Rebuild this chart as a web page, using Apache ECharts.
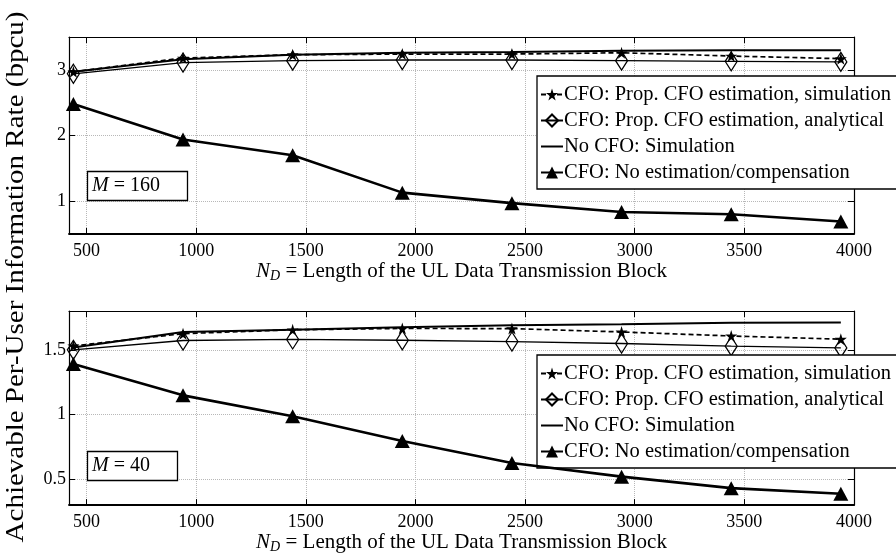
<!DOCTYPE html>
<html>
<head>
<meta charset="utf-8">
<script src="https://cdn.jsdelivr.net/npm/echarts@6/dist/echarts.min.js"></script>
<style>
  html, body { margin: 0; padding: 0; background: #fff; }
  #main { width: 896px; height: 555px; }
</style>
</head>
<body>
<div id="main"></div>
<script>
// block length N_D
const ndValues = [440, 940, 1440, 1940, 2440, 2940, 3440, 3940];

// M = 160
const propSim160 = [2.97, 3.18, 3.23, 3.24, 3.24, 3.26, 3.21, 3.17];
const propAna160 = [2.94, 3.11, 3.14, 3.15, 3.15, 3.14, 3.13, 3.12];
const noCfo160 = [2.97, 3.16, 3.23, 3.26, 3.27, 3.29, 3.30, 3.30];
const noEst160 = [2.48, 1.94, 1.70, 1.13, 0.97, 0.835, 0.80, 0.69];

// M = 40
const propSim40 = [1.53, 1.625, 1.655, 1.665, 1.664, 1.638, 1.607, 1.582];
const propAna40 = [1.50, 1.572, 1.58, 1.574, 1.564, 1.549, 1.528, 1.515];
const noCfo40 = [1.518, 1.638, 1.656, 1.674, 1.689, 1.697, 1.71, 1.712];
const noEst40 = [1.39, 1.148, 0.987, 0.796, 0.625, 0.52, 0.431, 0.388];

// ticks
const xTicks = [500, 1000, 1500, 2000, 2500, 3000, 3500, 4000];
const yTicks160 = [1, 2, 3];
const yTicks40 = [0.5, 1, 1.5];

const names = [
    'CFO: Prop. CFO estimation, simulation',
    'CFO: Prop. CFO estimation, analytical',
    'No CFO: Simulation',
    'CFO: No estimation/compensation'
];

const FONT = "'Liberation Serif', 'DejaVu Serif', serif";
const STAR = 'path://M50,0 L61,35 L98,35 L68,57 L79,91 L50,70 L21,91 L32,57 L2,35 L39,35 Z';

const pairs = (ys) => ndValues.map((x, i) => [x, ys[i]]);

// x axes: bottom one with labels, top one only for the frame/ticks
const makeX = (grid, top) => ({
    type: 'value',
    gridIndex: grid,
    position: top ? 'top' : 'bottom',
    min: 420,
    max: 4000,
    axisLine: { show: true, onZero: false, lineStyle: { color: '#000', width: top ? 1.2 : 1.8 } },
    axisTick: { show: true, inside: true, length: 6, customValues: xTicks, lineStyle: { color: '#000', width: 1 } },
    axisLabel: {
        show: !top, customValues: xTicks, margin: 8, color: '#000', fontFamily: FONT, fontSize: 18,
        formatter: (v) => String(v)
    },
    splitLine: { show: !top, lineStyle: { color: '#b8b8b8', type: 'dotted', width: 1 } },
    name: top ? '' : '{i|N}{s|D} = Length of the UL Data Transmission Block',
    nameLocation: 'middle',
    nameGap: 25,
    nameTextStyle: {
        color: '#000', fontFamily: FONT, fontSize: 21,
        rich: {
            i: { fontFamily: FONT, fontSize: 21, fontStyle: 'italic', color: '#000' },
            s: { fontFamily: FONT, fontSize: 14, fontStyle: 'italic', color: '#000', padding: [9, 0, 0, 0] }
        }
    }
});

const makeY = (grid, right, min, max, ticks) => ({
    type: 'value',
    gridIndex: grid,
    position: right ? 'right' : 'left',
    min: min,
    max: max,
    axisLine: { show: true, onZero: false, lineStyle: { color: '#000', width: 1.2 } },
    axisTick: { show: true, inside: true, length: 6, customValues: ticks, lineStyle: { color: '#000', width: 1 } },
    axisLabel: { show: !right, customValues: ticks, margin: 3, color: '#000', fontFamily: FONT, fontSize: 18 },
    splitLine: { show: !right, lineStyle: { color: '#b8b8b8', type: 'dotted', width: 1 } }
});

const makeSeries = (idx, sim, ana, noCfo, noEst) => [
    {
        name: names[0], type: 'line', xAxisIndex: idx * 2, yAxisIndex: idx * 2,
        data: pairs(sim), symbol: STAR, symbolSize: 12, z: 4,
        lineStyle: { color: '#000', width: 1.7, type: [5, 3] },
        itemStyle: { color: '#000' }
    },
    {
        name: names[1], type: 'line', xAxisIndex: idx * 2, yAxisIndex: idx * 2,
        data: pairs(ana), symbol: 'diamond', symbolSize: [12, 19], z: 3,
        lineStyle: { color: '#000', width: 1.3 },
        itemStyle: { color: 'rgba(0,0,0,0)', borderColor: '#000', borderWidth: 1.3 }
    },
    {
        // plain line, the hidden symbol keeps the legend icon to a bare line
        name: names[2], type: 'line', xAxisIndex: idx * 2, yAxisIndex: idx * 2,
        data: pairs(noCfo), symbol: 'circle', showSymbol: false, z: 2,
        lineStyle: { color: '#000', width: 2 },
        itemStyle: { color: 'rgba(0,0,0,0)', borderWidth: 0 }
    },
    {
        name: names[3], type: 'line', xAxisIndex: idx * 2, yAxisIndex: idx * 2,
        data: pairs(noEst), symbol: 'triangle', symbolSize: [15, 14], z: 5,
        lineStyle: { color: '#000', width: 2.6 },
        itemStyle: { color: '#000' }
    }
];

const makeLegend = (top) => ({
    orient: 'vertical',
    left: 537,
    top: top,
    data: names,
    selectedMode: false,
    backgroundColor: '#fff',
    borderColor: '#000',
    borderWidth: 1.3,
    padding: [8, 10, 6, 3],
    itemGap: 5,
    itemWidth: 22,
    itemHeight: 15,
    textStyle: { color: '#000', fontFamily: FONT, fontSize: 20.5, padding: [0, 0, 0, -4] }
});

const makeBox = (text, left, top) => ({
    text: text,
    left: left,
    top: top,
    borderColor: '#000',
    borderWidth: 1.3,
    backgroundColor: '#fff',
    padding: [5, 28, 5, 5],
    textStyle: {
        color: '#000', fontFamily: FONT, fontSize: 20, fontWeight: 'normal',
        rich: {
            m: { fontFamily: FONT, fontSize: 20, fontStyle: 'italic', color: '#000' },
            t: { fontFamily: FONT, fontSize: 20, color: '#000' }
        }
    }
});

const chart = echarts.init(document.getElementById('main'), null, { renderer: 'canvas' });

const option = {
    backgroundColor: '#fff',
    animation: false,
    title: [
        makeBox('{m|M}{t| = 160}', 87, 171),
        makeBox('{m|M}{t| = 40}', 87, 451)
    ],
    legend: [makeLegend(76), makeLegend(355)],
    grid: [
        { left: 69, right: 42, top: 37, height: 197 },
        { left: 69, right: 42, top: 311, height: 196 }
    ],
    xAxis: [makeX(0, false), makeX(0, true), makeX(1, false), makeX(1, true)],
    yAxis: [
        makeY(0, false, 0.5, 3.5, yTicks160),
        makeY(0, true, 0.5, 3.5, yTicks160),
        makeY(1, false, 0.3, 1.8, yTicks40),
        makeY(1, true, 0.3, 1.8, yTicks40)
    ],
    graphic: [{
        type: 'text',
        x: 16,
        y: 277,
        rotation: Math.PI / 2,
        scaleX: 1.16,
        style: {
            text: 'Achievable Per-User Information Rate (bpcu)',
            fill: '#000',
            font: "25px 'Liberation Serif', 'DejaVu Serif', serif",
            textAlign: 'center',
            textVerticalAlign: 'middle'
        }
    }],
    series: [
        ...makeSeries(0, propSim160, propAna160, noCfo160, noEst160),
        ...makeSeries(1, propSim40, propAna40, noCfo40, noEst40)
    ]
};

chart.setOption(option);
</script>
</body>
</html>
